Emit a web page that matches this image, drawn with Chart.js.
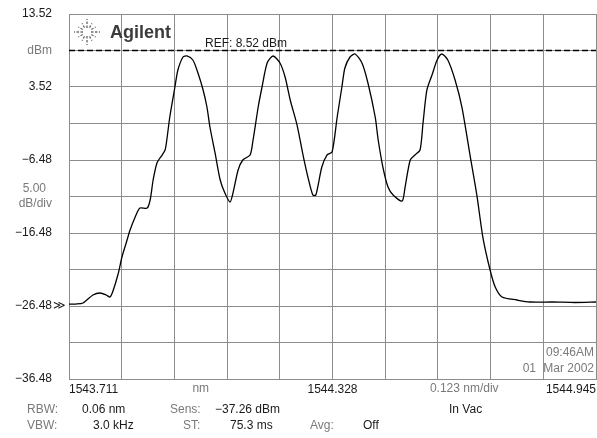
<!DOCTYPE html>
<html>
<head>
<meta charset="utf-8">
<script src="https://cdn.jsdelivr.net/npm/chart.js@4/dist/chart.umd.min.js"></script>
<style>
  html, body { margin: 0; padding: 0; background: #fff; }
  #wrap { width: 597px; height: 438px; }
</style>
</head>
<body>
<div id="wrap"><canvas id="chart" width="597" height="438"></canvas></div>
<script>
// trace (nm, dBm)
var wavelengthNm = [1543.711,1543.727,1543.744,1543.767,1543.784,1543.798,1543.807,1543.814,1543.826,1543.835,
    1543.847,1543.854,1543.866,1543.877,1543.894,1543.901,1543.908,1543.917,1543.929,1543.936,
    1543.940,1543.947,1543.959,1543.966,1543.978,1543.987,1544.001,1544.013,1544.025,1544.034,
    1544.041,1544.053,1544.065,1544.076,1544.088,1544.095,1544.107,1544.118,1544.135,1544.142,
    1544.154,1544.163,1544.175,1544.189,1544.205,1544.217,1544.229,1544.245,1544.259,1544.271,
    1544.282,1544.289,1544.303,1544.315,1544.327,1544.339,1544.350,1544.357,1544.369,1544.381,
    1544.397,1544.411,1544.428,1544.435,1544.446,1544.458,1544.470,1544.491,1544.498,1544.510,
    1544.521,1544.533,1544.540,1544.549,1544.561,1544.573,1544.584,1544.598,1544.615,1544.631,
    1544.650,1544.666,1544.680,1544.697,1544.709,1544.725,1544.760,1544.790,1544.844,1544.896,
    1544.945];
var powerDbm = [-26.21,-26.21,-26.07,-24.97,-24.70,-24.97,-25.25,-24.43,-22.10,-19.77,
    -17.44,-16.07,-14.29,-13.06,-13.06,-11.96,-9.22,-6.89,-5.80,-5.11,
    -3.74,-0.59,3.52,5.85,7.63,7.77,7.22,5.44,3.11,0.78,
    -1.96,-5.52,-9.22,-11.00,-12.23,-11.00,-7.85,-6.48,-5.80,-3.74,
    0.78,3.52,6.81,7.77,6.81,4.89,1.74,-1.69,-5.80,-8.95,
    -11.28,-11.28,-7.44,-5.80,-5.38,-0.59,3.52,6.12,7.63,8.04,
    6.81,4.07,-0.59,-3.74,-7.44,-10.18,-11.28,-12.10,-10.18,-6.48,
    -5.80,-5.11,-1.41,3.11,5.16,7.22,8.04,7.22,4.48,0.78,
    -5.80,-11.28,-17.03,-21.55,-23.88,-25.25,-25.66,-25.93,-25.93,-26.00,
    -25.93];

var refLevel = 8.52;

var xTickValues = [1543.711,1543.8344,1543.9578,1544.0812,1544.2046,1544.328,1544.4514,1544.5748,1544.6982,1544.8216,1544.945];
var xTickLabels = ['1543.711','','','','','1544.328','','','','','1544.945'];
var yTickValues = [-36.48,-31.48,-26.48,-21.48,-16.48,-11.48,-6.48,-1.48,3.52,8.52,13.52];
var yTickLabels = ['\u221236.48','','\u221226.48','','\u221216.48',['5.00\u2002','dB/div'],'\u22126.48','','3.52','dBm','13.52'];

var FONT = '"Liberation Sans", Arial, sans-serif';
var GRID = '#8c8c8c';
var DARK = '#1a1a1a';
var GREY = '#7a7a7a';

var trace = wavelengthNm.map(function (w, i) { return { x: w, y: powerDbm[i] }; });
var refLine = [
    { x: xTickValues[0], y: refLevel },
    { x: xTickValues[xTickValues.length - 1], y: refLevel }
];

// screen annotations that are not axis ticks
var screenText = {
    id: 'screenText',
    afterDraw: function (chart) {
        var ctx = chart.ctx;
        var xs = chart.scales.x, ys = chart.scales.y;
        ctx.save();

        // logo sparkle
        var cx = 87, cy = 32;
        ctx.strokeStyle = '#6e6e6e';
        ctx.lineWidth = 1.4;
        for (var k = 0; k < 12; k++) {
            var a = k * Math.PI / 6;
            var r1 = (k % 3 === 0) ? 4 : 5, r2 = (k % 3 === 0) ? 13 : 10;
            ctx.setLineDash([2.5, 1.5]);
            ctx.beginPath();
            ctx.moveTo(cx + Math.cos(a) * r1, cy + Math.sin(a) * r1);
            ctx.lineTo(cx + Math.cos(a) * r2, cy + Math.sin(a) * r2);
            ctx.stroke();
        }
        ctx.setLineDash([]);
        ctx.fillStyle = '#3c3c3c';
        ctx.font = 'bold 18px ' + FONT;
        ctx.textAlign = 'left';
        ctx.textBaseline = 'alphabetic';
        ctx.fillText('Agilent', 110, 38);

        ctx.font = '12px ' + FONT;
        ctx.fillStyle = DARK;
        ctx.fillText('REF: 8.52 dBm', 205, ys.getPixelForValue(refLevel) - 4);

        // marker after the -26.48 label
        ctx.fillStyle = DARK;
        ctx.textBaseline = 'middle';
        ctx.fillText('\u226B', 53, ys.getPixelForValue(-26.48));

        // x scale notes between gridlines
        ctx.textAlign = 'center';
        ctx.fillStyle = GREY;
        ctx.fillText('nm', xs.getPixelForValue((xTickValues[2] + xTickValues[3]) / 2), 389);
        ctx.fillText('0.123 nm/div', xs.getPixelForValue((xTickValues[7] + xTickValues[8]) / 2), 389);

        // date stamp
        ctx.textAlign = 'right';
        ctx.fillText('09:46AM', 594, 353);
        ctx.fillText('Mar 2002', 594, 369);
        ctx.fillText('01', 536, 369);

        // settings footer
        ctx.textAlign = 'left';
        var rows = [
            ['RBW:', 27, 410, GREY], ['0.06 nm', 82, 410, DARK], ['Sens:', 170, 410, GREY],
            ['\u221237.26 dBm', 215, 410, DARK], ['In Vac', 449, 410, DARK],
            ['VBW:', 27, 426, GREY], ['3.0 kHz', 93, 426, DARK], ['ST:', 183, 426, GREY],
            ['75.3 ms', 230, 426, DARK], ['Avg:', 310, 426, GREY], ['Off', 363, 426, DARK]
        ];
        rows.forEach(function (r) {
            ctx.fillStyle = r[3];
            ctx.fillText(r[0], r[1], r[2]);
        });
        ctx.restore();
    }
};

new Chart(document.getElementById('chart'), {
    type: 'line',
    data: {
        datasets: [
            {
                data: trace,
                borderColor: '#000',
                borderWidth: 1.3,
                pointRadius: 0,
                tension: 0.25,
                fill: false
            },
            {
                data: refLine,
                borderColor: '#000',
                borderWidth: 1.5,
                borderDash: [6, 3],
                pointRadius: 0,
                fill: false
            }
        ]
    },
    options: {
        responsive: false,
        animation: false,
        devicePixelRatio: 1,
        layout: { padding: { top: 14, right: 1, left: 0, bottom: 0 } },
        plugins: { legend: { display: false }, tooltip: { enabled: false } },
        scales: {
            x: {
                type: 'linear',
                min: xTickValues[0],
                max: xTickValues[xTickValues.length - 1],
                afterBuildTicks: function (scale) {
                    scale.ticks = xTickValues.map(function (v) { return { value: v }; });
                },
                afterFit: function (scale) {
                    scale.height = 59;
                    scale.paddingLeft = 0;
                    scale.paddingRight = 0;
                },
                grid: { color: GRID, lineWidth: 1, drawTicks: false },
                border: { color: GRID, width: 1 },
                ticks: {
                    autoSkip: false,
                    maxRotation: 0,
                    align: 'inner',
                    padding: 3,
                    color: DARK,
                    font: { family: FONT, size: 12 },
                    callback: function (v, i) { return xTickLabels[i]; }
                }
            },
            y: {
                type: 'linear',
                min: yTickValues[0],
                max: yTickValues[yTickValues.length - 1],
                afterBuildTicks: function (scale) {
                    scale.ticks = yTickValues.map(function (v) { return { value: v }; });
                },
                afterFit: function (scale) {
                    scale.width = 69;
                    scale.paddingTop = 0;
                    scale.paddingBottom = 0;
                },
                grid: { color: GRID, lineWidth: 1, drawTicks: false },
                border: { color: GRID, width: 1 },
                ticks: {
                    autoSkip: false,
                    padding: 17,
                    color: function (c) { return (c.index === 5 || c.index === 9) ? GREY : DARK; },
                    font: { family: FONT, size: 12, lineHeight: 1.25 },
                    callback: function (v, i) { return yTickLabels[i]; }
                }
            }
        }
    },
    plugins: [screenText]
});
</script>
</body>
</html>
